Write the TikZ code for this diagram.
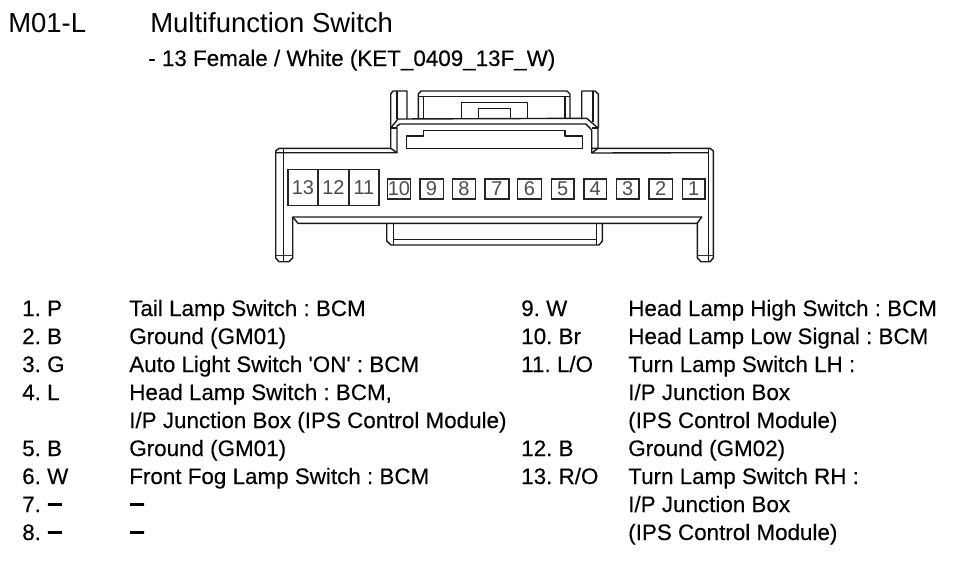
\documentclass[tikz,border=0pt]{standalone}
\usepackage{fontspec}
\newfontfamily\labelfont{Liberation Sans}
\newfontfamily\rowfont[FakeBold=0.25]{Liberation Sans}
\newcommand{\nowire}{{\fontsize{21}{21}\selectfont\bfseries –}}
\frenchspacing
\tikzset{
  hull/.style={draw=black!90, line width=1.05pt, line join=round},
  thinedge/.style={draw=black!80, line width=0.6pt},
  pinbox/.style={anchor=north west, rectangle, draw=black!85, line width=0.9pt, inner sep=0pt, text=black!70, font=\labelfont\fontsize{15}{15}\selectfont},
  rowtext/.style={anchor=base west, inner sep=0pt, text=black, font=\rowfont\fontsize{16.8}{18}\selectfont},
  headtext/.style={rowtext, font=\labelfont\fontsize{20.6}{22}\selectfont},
}
\begin{document}
\begin{tikzpicture}[x=0.75pt,y=-0.75pt]
    \useasboundingbox (0,0) rectangle (965,561);
    % headings
    \node [headtext] (code) at (8,32) {M01-L};
    \node [headtext] (title) at (150,32) {Multifunction Switch};
    \node [rowtext] (subtitle) at (148,66) {- 13 Female / White (KET\_0409\_13F\_W)};
    % connector body
    \draw[hull] (390.7,148.3) -- (279,148.3) -- (275.7,151) -- (275.7,258) -- (279,261.7) -- (289,261.7) -- (292.7,258) -- (292.7,217) -- (701.7,217) -- (697.3,223) -- (697.3,258) -- (701,261.7) -- (710,261.7) -- (713.3,258) -- (713.3,151) -- (710,148.3) -- (591.7,148.3);
    \draw[hull] (275.7,152.7) -- (397,152.7) -- (390.7,148.3) -- (390.7,128) -- (398,119) -- (586.7,118.3) -- (598,128) -- (598,148.3) -- (591.7,153) -- (708.3,152.7);
    \draw[hull] (397,152.7) -- (397,126) -- (400,124) -- (586,124) -- (591.7,130) -- (591.7,153);
    \draw[hull] (591.7,128) -- (598,128);
    \draw[hull] (390.7,128) -- (397,128);
    \draw[hull] (283.3,148.3) -- (283.3,261.7);
    \draw[hull] (708.3,148.3) -- (708.3,261.7);
    \draw[thinedge] (275.7,255) -- (292.7,255);
    \draw[thinedge] (697.3,255) -- (713.3,255);
    \draw[hull] (292.7,217) -- (298,223.3) -- (697.3,223.3);
    % recess
    \draw[hull] (406.7,148.3) -- (406.7,136) -- (423.3,136) -- (423.3,130.7) -- (565,130.7) -- (565,136) -- (582.3,136) -- (582.3,148.3) -- cycle;
    % upper latches
    \draw[hull] (390.7,128) -- (390.7,94) -- (393,91) -- (407,91) -- (407,119);
    \draw[hull] (397,91) -- (397,119);
    \draw[hull] (581.7,119) -- (581.7,91) -- (595,91) -- (598.3,94) -- (598.3,128);
    \draw[hull] (593,91) -- (593,122);
    \draw[hull] (418.3,118.3) -- (418.3,94) -- (421,91) -- (567,91) -- (570,94) -- (570,118.3);
    \draw[hull] (423.3,118.3) -- (423.3,96.7) -- (565,96.7) -- (565,118.3);
    \draw[hull] (418.3,96.7) -- (423.3,96.7);
    \draw[hull] (565,96.7) -- (570,96.7);
    \draw[hull] (461.7,118.3) -- (461.7,102.7) -- (527.3,102.7) -- (527.3,118.3);
    \draw[hull] (478.3,118.3) -- (478.3,108.3) -- (510.7,108.3) -- (510.7,118.3);
    % lower tab
    \draw[hull] (386.7,223.3) -- (386.7,241) -- (391,245) -- (599,245) -- (602.3,241) -- (602.3,223.3);
    \draw[hull] (393.3,223.3) -- (393.3,239.3) -- (596.7,239.3) -- (596.7,223.3);
    \draw[hull] (393.3,239.3) -- (393.3,245);
    \draw[hull] (596.7,239.3) -- (596.7,245);
    % pins
    \foreach \num/\px/\pw/\ph/\py in {13/287.3/30/36.3/168.7, 12/317.3/31/36.3/168.7, 11/348.3/30/36.3/168.7,
        10/386.7/23.3/20/178.3, 9/419.3/23.3/20/178.3, 8/451.7/23.3/20/178.3, 7/484.3/24/20/178.3, 6/516.7/24.3/20/178.3,
        5/550.7/22.6/20/178.3, 4/583.3/22.7/20/178.3, 3/615.7/22.6/20/178.3, 2/648.3/23.4/20/178.3, 1/681.7/22.6/20/178.3}
        \node [pinbox, minimum width=\pw*0.75pt, minimum height=\ph*0.75pt] (pin\num) at (\px,\py) {\num};
    % pin table
    \foreach \name/\rowy/\wire/\desc in {a/316/1. P/Tail Lamp Switch : BCM, b/344/2. B/Ground (GM01), c/372/3. G/Auto Light Switch 'ON' : BCM,
        d/400/4. L/{Head Lamp Switch : BCM,}, f/456/5. B/Ground (GM01), g/484/6. W/Front Fog Lamp Switch : BCM, h/512/7. \nowire/\nowire, i/540/8. \nowire/\nowire} {
        \node [rowtext] (wire\name) at (22,\rowy) {\wire};
        \node [rowtext] (desc\name) at (129,\rowy) {\desc};
    }
    \node [rowtext] (desce) at (129,428) {I/P Junction Box (IPS Control Module)};
    \foreach \name/\rowy/\wire/\desc in {j/316/9. W/Head Lamp High Switch : BCM, k/344/10. Br/Head Lamp Low Signal : BCM, l/372/{11. L/O}/Turn Lamp Switch LH :,
        n/456/12. B/Ground (GM02), o/484/{13. R/O}/Turn Lamp Switch RH :} {
        \node [rowtext] (wire\name) at (521,\rowy) {\wire};
        \node [rowtext] (desc\name) at (628,\rowy) {\desc};
    }
    \node [rowtext] (descl2) at (628,400) {I/P Junction Box};
    \node [rowtext] (descl3) at (628,428) {(IPS Control Module)};
    \node [rowtext] (desco2) at (628,512) {I/P Junction Box};
    \node [rowtext] (desco3) at (628,540) {(IPS Control Module)};
\end{tikzpicture}
\end{document}
